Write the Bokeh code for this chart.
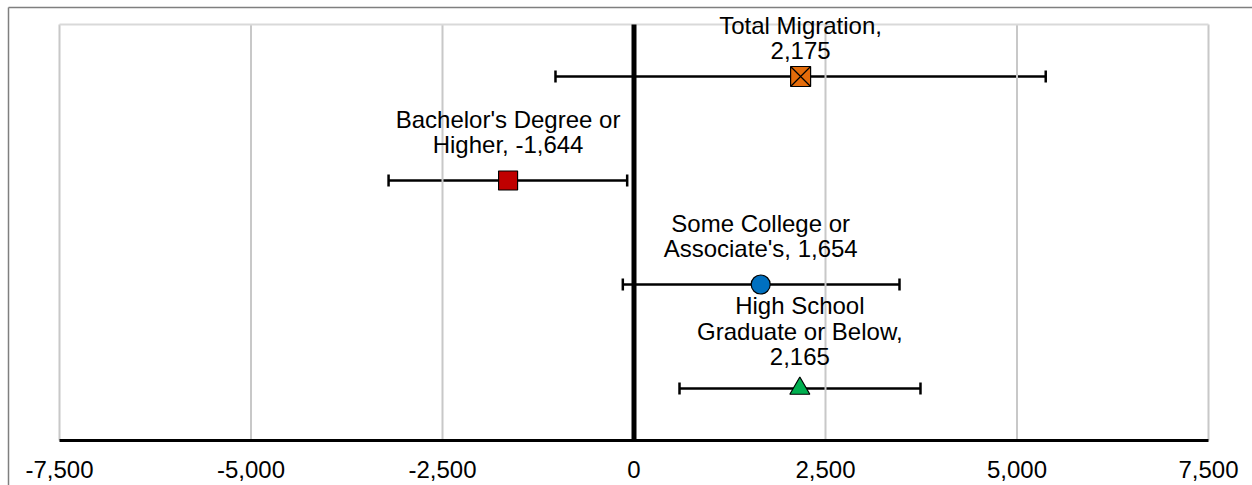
from bokeh.plotting import figure
from bokeh.models import (ColumnDataSource, Whisker, FixedTicker, NumeralTickFormatter,
                          TeeHead, Range1d, LinearAxis)
from bokeh.core.properties import value
from bokeh.embed import file_html
from bokeh.resources import INLINE

# ---- data ----
categories = ["Total Migration", "Bachelor's Degree or Higher",
              "Some College or Associate's", "High School Graduate or Below"]
labels = ["Total Migration,\n2,175", "Bachelor's Degree or\nHigher, -1,644",
          "Some College or\nAssociate's, 1,654", "High School\nGraduate or Below,\n2,165"]
values = [2175, -1644, 1654, 2165]
lower = [-1025, -3204, -146, 594]
upper = [5375, -89, 3466, 3740]
rows = [4, 3, 2, 1]
x_ticks = [-7500, -5000, -2500, 0, 2500, 5000, 7500]

# ---- styles ----
markers = ["square_x", "square", "circle", "triangle"]
colors = ["#E46C0A", "#C00000", "#0070C0", "#00B050"]
sizes = [20, 19, 19, 20]
label_offsets = [-12, -22, -22, -18]
FONT = "Liberation Sans"

W, H = 1252, 485
FRAME_L, FRAME_T = 8, 7          # outer chart box (left / top border)
AREA_L, AREA_R = 59, 1208        # plot area in pixels
AREA_T, AREA_B = 24, 440
X0, X1 = -7500, 7500
Y0, Y1 = 0.5, 4.5

ppx = (AREA_R - AREA_L) / (X1 - X0)
ppy = (AREA_B - AREA_T) / (Y1 - Y0)
x_range = Range1d(X0 - (AREA_L - FRAME_L) / ppx, X1 + (W - AREA_R) / ppx)
y_range = Range1d(Y0 - (H - AREA_B) / ppy, Y1 + (AREA_T - FRAME_T) / ppy)

src = ColumnDataSource(dict(cat=categories, label=labels, x=values, lo=lower, hi=upper,
                            y=rows, marker=markers, color=colors, size=sizes,
                            yoff=label_offsets))

p = figure(width=W, height=H, output_backend="svg", toolbar_location=None,
           x_range=x_range, y_range=y_range,
           min_border_left=FRAME_L, min_border_top=FRAME_T,
           min_border_right=0, min_border_bottom=0)
p.outline_line_color = None
p.xgrid.visible = False
p.ygrid.visible = False

# x axis fixed inside the chart (the default bottom axis)
xa = p.below[0]
xa.fixed_location = Y0
xa.bounds = (X0, X1)
xa.ticker = FixedTicker(ticks=x_ticks)
xa.formatter = NumeralTickFormatter(format="0,0")
xa.axis_line_color = "black"
xa.axis_line_width = 3
xa.major_tick_line_color = None
xa.minor_tick_line_color = None
xa.major_label_text_font = FONT
xa.major_label_text_font_size = "24px"
xa.major_label_text_color = "black"
xa.major_label_standoff = 14

# outer chart border via bare axes on left and top
def bare(axis):
    axis.ticker = FixedTicker(ticks=[])
    axis.major_tick_in = 0
    axis.major_tick_out = 0
    axis.minor_tick_in = 0
    axis.minor_tick_out = 0
    axis.major_label_standoff = 0
    axis.axis_line_color = "#7f7f7f"
    axis.axis_line_width = 1.5

bare(p.left[0])
top_axis = LinearAxis()
bare(top_axis)
p.add_layout(top_axis, "above")

# plot-area grid lines and top edge
p.segment(x0=x_ticks, y0=[Y0] * len(x_ticks), x1=x_ticks, y1=[Y1] * len(x_ticks),
          line_color="#c8c8c8", line_width=2)
p.segment(x0=[X0], y0=[Y1], x1=[X1], y1=[Y1], line_color="#d9d9d9", line_width=2)
# zero line
p.segment(x0=[0], y0=[Y0], x1=[0], y1=[Y1], line_color="black", line_width=5)

w = Whisker(source=src, base="y", lower="lo", upper="hi", dimension="width",
            line_color="black", line_width=2.5)
w.upper_head = TeeHead(size=12, line_color="black", line_width=2.5)
w.lower_head = TeeHead(size=12, line_color="black", line_width=2.5)
p.add_layout(w)

p.scatter(x="x", y="y", marker="marker", size="size", fill_color="color",
          line_color="black", line_width=1.2, source=src)

p.text(x="x", y="y", text="label", y_offset="yoff", source=src,
       text_align="center", text_baseline="bottom", text_font=value(FONT),
       text_font_size="24px", text_color="black", text_line_height=0.95)

open("out.html", "w").write(file_html(p, INLINE))
